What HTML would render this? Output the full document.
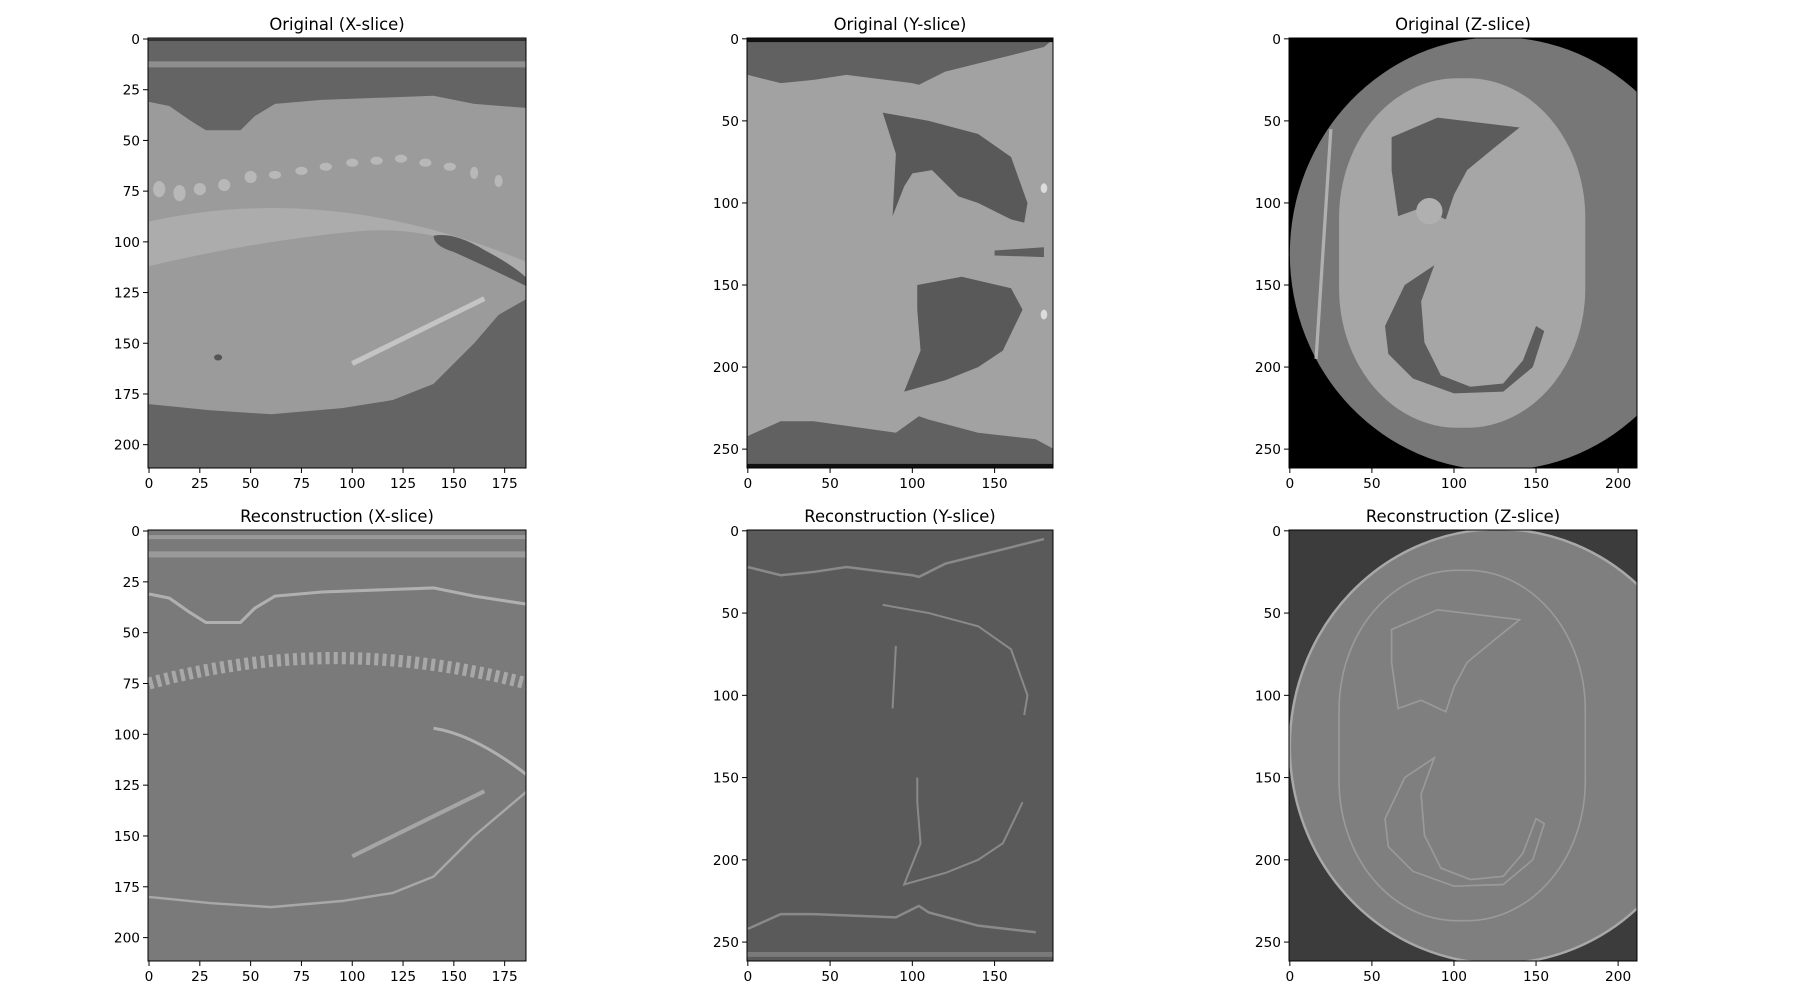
<!DOCTYPE html>
<html><head><meta charset="utf-8">
<style>
html,body{margin:0;padding:0;background:#fff;}
svg text{font-family:"DejaVu Sans","Liberation Sans",sans-serif;fill:#000;}
</style></head>
<body>
<svg id="fig" width="1800" height="1000" viewBox="0 0 1800 1000" xmlns="http://www.w3.org/2000/svg">
<rect width="1800" height="1000" fill="#fff"/>

<!-- Original X -->
<svg x="148" y="38" width="378" height="430" viewBox="-0.5 -0.5 186 212" preserveAspectRatio="none">
 <rect x="-1" y="-1" width="190" height="215" fill="#646464"/>
 <rect x="-1" y="0" width="190" height="1" fill="#333"/>
 <rect x="-1" y="11" width="190" height="3" fill="#8e8e8e"/>
 <path d="M0,31 L10,33 L20,40 L28,45 L45,45 L52,38 L62,32 L85,30 L140,28 L160,32 L186,34 L186,128 L172,136 L160,150 L140,170 L120,178 L95,182 L60,185 L30,183 L0,180 Z" fill="#9b9b9b"/>
 <path d="M0,90 Q90,70 186,110 L186,120 Q150,90 100,95 Q50,100 0,112 Z" fill="#acacac"/>
 <g fill="#b8b8b8">
  <ellipse cx="5" cy="74" rx="3" ry="4"/><ellipse cx="15" cy="76" rx="3" ry="4"/><ellipse cx="25" cy="74" rx="3" ry="3"/>
  <ellipse cx="37" cy="72" rx="3" ry="3"/><ellipse cx="50" cy="68" rx="3" ry="3"/><ellipse cx="62" cy="67" rx="3" ry="2"/>
  <ellipse cx="75" cy="65" rx="3" ry="2"/><ellipse cx="87" cy="63" rx="3" ry="2"/><ellipse cx="100" cy="61" rx="3" ry="2"/>
  <ellipse cx="112" cy="60" rx="3" ry="2"/><ellipse cx="124" cy="59" rx="3" ry="2"/><ellipse cx="136" cy="61" rx="3" ry="2"/>
  <ellipse cx="148" cy="63" rx="3" ry="2"/><ellipse cx="160" cy="66" rx="2" ry="3"/><ellipse cx="172" cy="70" rx="2" ry="3"/>
 </g>
 <path d="M140,97 Q150,95 165,104 Q180,112 186,118 L186,122 Q170,114 150,105 Q140,102 140,97 Z" fill="#5a5a5a"/>
 <path d="M100,160 L165,128" stroke="#c4c4c4" stroke-width="2.5" fill="none"/>
 <ellipse cx="34" cy="157" rx="2" ry="1.5" fill="#555"/>
</svg>

<!-- Original Y -->
<svg x="747" y="38" width="306" height="430" viewBox="-0.5 -0.5 186 262" preserveAspectRatio="none">
 <rect x="-1" y="-1" width="190" height="265" fill="#616161"/>
 <path d="M0,22 L20,27 L40,25 L60,22 L100,27 L104,28 L120,20 L160,10 L180,5 L186,0 L186,250 L175,244 L140,240 L110,232 L104,230 L90,240 L40,233 L20,233 L0,242 Z" fill="#a2a2a2"/>
 <path d="M82,45 L110,50 L140,58 L160,72 L170,100 L168,112 L160,110 L140,100 L128,96 L112,80 L100,82 L95,90 L88,108 L90,70 Z" fill="#595959"/>
 <path d="M103,150 L130,145 L160,152 L167,165 L155,190 L140,200 L120,208 L95,215 L105,190 L103,165 Z" fill="#595959"/>
 <path d="M150,129 L180,127 L180,133 L150,132 Z" fill="#5e5e5e"/>
 <ellipse cx="180" cy="91" rx="2" ry="3" fill="#dcdcdc"/><ellipse cx="180" cy="168" rx="2" ry="3" fill="#dcdcdc"/>
 <rect x="-1" y="-1" width="190" height="3" fill="#111"/>
 <rect x="-1" y="259" width="190" height="4" fill="#111"/>
</svg>

<!-- Original Z -->
<svg x="1289" y="38" width="348" height="430" viewBox="-0.5 -0.5 212 262" preserveAspectRatio="none">
 <rect x="-1" y="-1" width="215" height="265" fill="#000"/>
 <ellipse cx="127" cy="131" rx="127" ry="132" fill="#777"/>
 <rect x="30" y="24" width="150" height="213" rx="72" ry="85" fill="#a6a6a6"/>
 <path d="M62,60 L90,48 L140,54 L125,66 L108,80 L100,95 L95,110 L80,103 L66,108 L62,80 Z" fill="#5c5c5c"/>
 <path d="M58,175 L70,150 L88,138 L80,160 L82,185 L92,205 L110,212 L130,210 L142,196 L150,175 L155,178 L148,200 L130,215 L100,216 L75,207 L60,192 Z" fill="#5c5c5c"/>
 <path d="M25,55 L16,195" stroke="#b0b0b0" stroke-width="2" fill="none"/>
 <circle cx="85" cy="105" r="8" fill="#b0b0b0"/>
</svg>

<!-- Recon X -->
<svg x="148" y="530" width="378" height="431" viewBox="-0.5 -0.5 186 212" preserveAspectRatio="none">
 <rect x="-1" y="-1" width="190" height="215" fill="#7a7a7a"/>
 <rect x="-1" y="2" width="190" height="2" fill="#999"/>
 <rect x="-1" y="10" width="190" height="3" fill="#9a9a9a"/>
 <path d="M0,31 L10,33 L20,40 L28,45 L45,45 L52,38 L62,32 L85,30 L140,28 L160,32 L186,36" stroke="#b0b0b0" stroke-width="1.5" fill="none"/>
 <path d="M0,75 Q90,50 186,75" stroke="#a8a8a8" stroke-width="6" fill="none" stroke-dasharray="2 2"/>
 <path d="M140,97 Q160,100 186,120" stroke="#b0b0b0" stroke-width="1.5" fill="none"/>
 <path d="M186,128 L160,150 L140,170 L120,178 L95,182 L60,185 L30,183 L0,180" stroke="#a8a8a8" stroke-width="1.2" fill="none"/>
 <path d="M100,160 L165,128" stroke="#a5a5a5" stroke-width="2" fill="none"/>
</svg>

<!-- Recon Y -->
<svg x="747" y="530" width="306" height="431" viewBox="-0.5 -0.5 186 262" preserveAspectRatio="none">
 <rect x="-1" y="-1" width="190" height="265" fill="#5a5a5a"/>
 <path d="M0,22 L20,27 L40,25 L60,22 L100,27 L104,28 L120,20 L160,10 L180,5" stroke="#8a8a8a" stroke-width="1.5" fill="none"/>
 <path d="M0,242 L20,233 L40,233 L90,235 L104,228 L110,232 L140,240 L175,244" stroke="#8a8a8a" stroke-width="1.5" fill="none"/>
 <path d="M82,45 L110,50 L140,58 L160,72 L170,100 L168,112 M90,70 L88,108" stroke="#8a8a8a" stroke-width="1.2" fill="none"/>
 <path d="M103,150 L103,165 L105,190 L95,215 L120,208 L140,200 L155,190 L167,165" stroke="#8a8a8a" stroke-width="1.2" fill="none"/>
 <rect x="-1" y="256" width="190" height="3" fill="#7a7a7a"/>
</svg>

<!-- Recon Z -->
<svg x="1289" y="530" width="348" height="431" viewBox="-0.5 -0.5 212 262" preserveAspectRatio="none">
 <rect x="-1" y="-1" width="215" height="265" fill="#3c3c3c"/>
 <ellipse cx="127" cy="131" rx="127" ry="132" fill="#7f7f7f" stroke="#a8a8a8" stroke-width="1.5"/>
 <rect x="30" y="24" width="150" height="213" rx="72" ry="85" fill="none" stroke="#9a9a9a" stroke-width="1"/>
 <path d="M62,60 L90,48 L140,54 L125,66 L108,80 L100,95 L95,110 L80,103 L66,108 L62,80 Z" fill="none" stroke="#9a9a9a" stroke-width="1"/>
 <path d="M58,175 L70,150 L88,138 L80,160 L82,185 L92,205 L110,212 L130,210 L142,196 L150,175 L155,178 L148,200 L130,215 L100,216 L75,207 L60,192 Z" fill="none" stroke="#9a9a9a" stroke-width="1"/>
</svg>

<g id="axes"></g>
</svg>
<script>
const panelTitles = ["Original (X-slice)","Original (Y-slice)","Original (Z-slice)","Reconstruction (X-slice)","Reconstruction (Y-slice)","Reconstruction (Z-slice)"];
const xTicksX = [0,25,50,75,100,125,150,175];
const yTicksX = [0,25,50,75,100,125,150,175,200];
const xTicksY = [0,50,100,150];
const yTicksY = [0,50,100,150,200,250];
const xTicksZ = [0,50,100,150,200];
const yTicksZ = [0,50,100,150,200,250];
const dimsX = [186,212], dimsY = [186,262], dimsZ = [212,262];

const NS="http://www.w3.org/2000/svg";
const g=document.getElementById('axes');
const cols=[{x0:148,x1:526,d:dimsX,xt:xTicksX,yt:yTicksX},{x0:747,x1:1053,d:dimsY,xt:xTicksY,yt:yTicksY},{x0:1289,x1:1637,d:dimsZ,xt:xTicksZ,yt:yTicksZ}];
const rows=[{y0:38,y1:468},{y0:530,y1:961}];
function mk(t,a){const e=document.createElementNS(NS,t);for(const k in a)e.setAttribute(k,a[k]);return e;}
rows.forEach((r,ri)=>cols.forEach((c,ci)=>{
  const sx=v=>c.x0+(v+0.5)/c.d[0]*(c.x1-c.x0);
  const sy=v=>r.y0+(v+0.5)/c.d[1]*(r.y1-r.y0);
  const frame=mk('rect',{x:c.x0,y:r.y0,width:c.x1-c.x0,height:r.y1-r.y0,fill:'none',stroke:'#000','stroke-width':1});
  
  
  g.appendChild(frame);
  const t=mk('text',{x:(c.x0+c.x1)/2,y:r.y0-8,'text-anchor':'middle','font-size':16.4});
  t.textContent=panelTitles[ri*3+ci];
  
  
  g.appendChild(t);
  c.xt.forEach(v=>{
    const x=sx(v);
    const l=mk('line',{x1:x,x2:x,y1:r.y1,y2:r.y1+5,stroke:'#000','stroke-width':1});
    
    
    g.appendChild(l);
    const tx=mk('text',{x:x,y:r.y1+20,'text-anchor':'middle','font-size':13.7});
    tx.textContent=v;
    
    
    g.appendChild(tx);
  });
  c.yt.forEach(v=>{
    const y=sy(v);
    const l=mk('line',{x1:c.x0-5,x2:c.x0,y1:y,y2:y,stroke:'#000','stroke-width':1});
    
    
    g.appendChild(l);
    const ty=mk('text',{x:c.x0-8,y:y+5,'text-anchor':'end','font-size':13.7});
    ty.textContent=v;
    
    
    g.appendChild(ty);
  });
}));
</script>
</body></html>
